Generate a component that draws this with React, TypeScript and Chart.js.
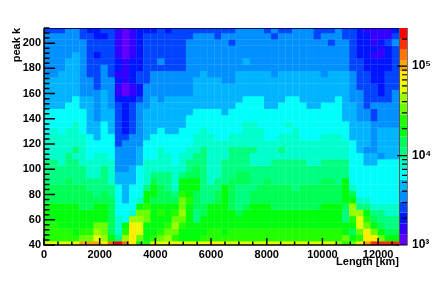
import React, { useEffect, useRef } from "react";
import { Chart, registerables } from "chart.js";

Chart.register(...registerables);

const binWidthKm = 255;
const columnCentres = Array.from({ length: 50 }, (_, i) => binWidthKm / 2 + i * binWidthKm);
const rowEdges = [212,208,203,198,193,188,183,178,173,168,163,158,153,148,143,138,133,128,123,118,113,108,103,98,93,88,83,78,73,68,63,58,53,48,43,40];

const bandColours = ["#6200ff","#3300ff","#0015ff","#0044ff","#0090ff","#00b4ff","#00fffa","#00ffcc","#00ff80","#00ff55","#00ff0d","#22ff00","#6aff00","#99ff00","#e3ff00","#ffee00","#ffa600","#ff7700","#ff2f00","#ff0000"];
const bandEdges = [1000,1322,1748,2311,3055,4039,5340,7060,9334,12341,16317,21573,28523,37712,49860,65923,87161,115240,152365,201449,266350];
const colourMajorTicks = [1000, 10000, 100000];
const colourMinorTicks = [2000,3000,4000,5000,6000,7000,8000,9000,20000,30000,40000,50000,60000,70000,80000,90000,200000];

const row00 = [3,3,3,4,4,3,2,2,3,3,1,0,1,2,2,2,3,2,3,3,3,3,3,3,3, 3,3,4,4,4,4,3,4,3,3,4,4,4,3,3,3,4,3,3,2,1,1,1,1,2];
const row01 = [4,4,4,4,4,3,3,2,2,3,1,0,1,2,3,3,3,3,3,3,3,4,4,4,3, 4,4,4,4,4,4,4,3,4,4,4,4,4,3,4,4,4,3,3,2,2,1,1,1,3];
const row02 = [4,4,4,4,4,4,3,3,3,3,1,0,1,2,3,3,3,3,3,3,4,4,4,4,4, 4,3,4,4,4,4,4,4,4,4,4,4,4,4,4,3,4,4,3,2,2,1,2,3,4];
const row03 = [4,4,4,4,4,4,3,3,3,3,1,0,1,2,3,3,3,3,3,3,4,4,4,4,4, 4,4,4,4,4,4,4,4,4,4,4,4,4,4,4,4,4,4,3,2,2,2,1,2,3];
const row04 = [4,4,4,4,5,4,3,2,3,3,1,0,1,2,3,3,3,3,3,3,4,4,4,4,4, 4,4,4,4,4,4,4,4,4,4,4,4,4,4,4,4,4,4,3,2,2,1,1,2,3];
const row05 = [4,4,4,5,5,4,3,3,3,3,2,1,2,2,3,3,4,3,3,3,4,4,4,4,4, 4,4,4,5,4,4,4,4,4,4,4,4,4,4,4,4,4,4,3,3,2,2,2,2,3];
const row06 = [4,4,4,5,5,4,3,3,4,3,2,1,2,2,3,3,3,3,3,3,4,4,4,4,4, 4,4,4,4,4,4,4,4,4,4,4,4,4,4,4,4,4,4,3,3,2,2,2,2,3];
const row07 = [4,4,5,5,5,4,3,3,4,3,1,1,2,3,3,4,4,4,4,4,4,4,5,4,4, 4,4,5,5,5,5,5,4,5,5,5,5,5,5,4,5,5,5,4,3,3,2,2,3,3];
const row08 = [5,5,5,5,5,4,4,3,4,4,2,1,2,3,3,4,4,4,4,4,4,5,5,5,5, 4,4,5,5,5,5,5,5,5,5,5,5,5,5,5,5,5,5,4,3,3,2,2,3,3];
const row09 = [5,5,5,5,5,4,4,3,4,4,1,0,1,2,4,4,4,4,4,4,4,5,5,5,5, 5,5,5,5,5,5,5,5,5,5,5,5,5,5,5,5,5,5,4,3,3,3,2,3,3];
const row10 = [5,5,5,5,5,4,4,4,5,4,1,0,1,2,4,4,4,4,4,4,4,5,5,5,5, 5,5,5,5,5,5,5,5,5,5,5,5,5,5,5,5,5,5,4,4,3,3,2,3,4];
const row11 = [5,5,5,5,6,5,5,4,5,4,2,2,2,3,4,5,4,5,5,5,5,5,5,5,5, 5,5,5,6,6,6,5,5,5,6,6,5,5,5,5,5,6,5,4,4,3,3,3,3,4];
const row12 = [5,5,5,6,6,5,5,4,5,4,3,2,3,4,4,5,5,5,5,5,5,5,5,5,5, 5,5,6,6,6,6,5,5,6,6,6,6,5,5,6,6,6,5,5,4,3,4,4,4,4];
const row13 = [6,6,6,6,6,6,5,4,5,5,3,2,3,4,5,5,5,5,5,5,5,6,6,6,6, 5,6,6,6,6,6,6,6,6,6,6,6,6,6,6,6,6,5,5,4,4,3,4,4,4];
const row14 = [6,6,6,6,6,6,5,4,5,5,3,2,3,4,5,5,5,5,5,5,6,6,6,6,6, 6,6,6,6,6,6,6,6,6,6,6,6,6,6,6,6,6,5,5,4,4,3,4,4,4];
const row15 = [6,6,6,6,7,6,5,5,6,5,3,2,3,4,5,5,5,5,5,5,6,6,6,6,6, 6,6,6,7,7,6,6,6,6,7,6,6,6,6,6,6,6,6,5,5,5,4,4,4,4];
const row16 = [6,7,6,7,7,6,5,5,6,5,3,2,3,4,5,5,6,5,5,6,6,6,7,6,6, 6,6,6,7,7,7,6,6,6,6,7,6,6,6,6,6,6,6,5,5,5,4,5,5,5];
const row17 = [7,7,7,7,7,7,6,5,6,6,3,3,4,4,5,6,6,6,6,6,6,7,7,7,6, 6,7,7,7,7,7,6,6,7,7,7,6,6,6,7,7,7,6,5,5,5,4,5,5,5];
const row18 = [7,7,7,7,7,7,6,6,6,6,3,4,4,4,6,6,6,6,6,6,6,7,7,7,7, 7,7,7,7,7,7,7,7,7,7,7,7,7,7,7,7,7,7,6,5,5,4,5,5,5];
const row19 = [7,7,7,7,8,7,6,6,6,6,4,4,4,5,6,6,7,6,6,6,7,7,8,7,7, 7,8,8,8,8,7,7,7,8,7,7,7,7,7,7,7,7,7,6,5,4,4,5,5,5];
const row20 = [7,7,7,8,7,7,6,7,7,6,4,4,4,5,6,6,7,7,6,7,7,8,8,7,7, 7,8,8,8,7,7,7,7,7,7,7,7,7,7,7,7,7,7,6,6,5,5,4,5,5];
const row21 = [8,8,7,8,8,7,7,7,7,7,4,4,4,5,7,7,7,7,6,7,8,8,8,7,7, 8,8,8,8,7,7,7,8,8,8,8,8,7,7,8,8,8,8,6,6,5,5,6,6,6];
const row22 = [8,8,8,8,8,8,7,7,8,7,4,4,5,6,7,7,7,7,7,7,8,9,8,7,7, 8,8,8,8,8,8,8,8,8,8,8,8,8,8,8,8,8,8,6,6,6,6,6,6,6];
const row23 = [8,8,8,8,8,8,7,7,8,7,5,5,5,6,7,8,8,8,7,8,9,9,8,7,7, 8,8,9,9,8,8,8,8,8,8,8,8,8,8,8,8,8,8,6,6,6,6,6,6,6];
const row24 = [8,8,8,9,8,8,8,8,8,7,5,5,5,6,7,9,8,8,7,10,10,10,8,7,8, 8,9,9,9,8,8,9,8,8,8,8,8,8,8,9,9,8,10,6,6,6,6,6,6,6];
const row25 = [9,9,9,9,9,9,8,8,8,8,6,5,6,6,8,10,9,8,7,10,10,10,8,8,8, 10,9,8,8,8,9,9,9,9,9,8,9,9,9,9,9,9,10,7,6,6,6,6,6,6];
const row26 = [9,9,9,9,9,9,9,8,9,8,6,5,6,6,10,10,9,9,8,11,10,9,8,8,9, 10,9,8,8,9,9,9,9,9,9,9,9,9,9,9,9,9,10,9,6,6,6,6,6,6];
const row27 = [9,9,9,9,9,9,9,9,9,9,6,5,6,7,10,9,9,9,9,12,11,9,8,8,9, 10,9,8,8,9,9,9,9,9,9,9,9,9,9,9,9,9,10,10,7,7,6,6,6,6];
const row28 = [10,10,10,10,10,9,9,10,10,9,6,6,6,10,11,10,10,10,10,12,10,9,9,10,10, 10,9,8,9,10,10,10,9,9,9,9,9,9,9,10,10,10,9,13,8,8,7,7,7,7];
const row29 = [10,10,10,10,10,10,10,10,10,9,6,6,7,12,12,10,11,10,11,13,10,8,9,10,10, 10,10,9,10,10,10,10,10,10,10,10,10,10,10,10,10,10,8,13,13,10,8,8,7,7];
const row30 = [10,10,10,10,10,10,10,10,10,9,7,6,13,13,12,10,10,10,12,12,10,8,10,10,10, 10,10,10,10,10,10,10,10,10,10,10,10,10,10,10,10,10,8,11,14,11,9,8,8,8];
const row31 = [11,11,10,10,10,10,10,12,12,9,7,10,15,14,10,10,10,11,13,11,10,10,10,10,10, 10,10,10,10,10,10,10,10,10,10,10,10,10,10,10,10,10,10,10,14,12,10,9,8,8];
const row32 = [11,11,11,11,10,11,11,13,12,9,7,11,15,14,10,10,11,12,12,10,10,10,10,11,11, 10,11,11,11,11,11,11,11,11,11,11,11,11,11,11,11,11,10,9,12,15,12,10,9,9];
const row33 = [11,11,11,11,11,12,12,14,13,10,8,13,15,12,10,11,12,13,11,10,10,10,11,11,11, 11,11,11,11,11,11,11,11,11,11,11,11,11,11,11,11,11,12,10,11,15,15,12,10,10];
const row34 = [14,14,14,14,14,16,16,16,15,17,19,17,15,10,11,14,14,14,15,14,14,14,14,15,15, 14,14,14,14,14,14,14,14,14,14,14,14,14,14,14,14,13,11,12,15,16,18,18,18,18];

const rows = [row00,row01,row02,row03,row04,row05,row06,row07,row08,row09,row10,row11,row12,row13,row14,row15,row16,row17,row18,row19,row20,row21,row22,row23,row24,row25,row26,row27,row28,row29,row30,row31,row32,row33,row34];

const xMajorTicks = [0,2000,4000,6000,8000,10000,12000];
const xMinorTicks = [500,1000,1500,2500,3000,3500,4500,5000,5500,6500,7000,7500,8500,9000,9500,10500,11000,11500,12500];
const yMajorTicks = [40,60,80,100,120,140,160,180,200];
const yMinorTicks = [44,48,52,56,64,68,72,76,84,88,92,96,104,108,112,116,124,128,132,136,144,148,152,156,164,168,172,176,184,188,192,196,204,208,212];
const superscripts: Record<number, string> = { 1000: "10\u00b3", 10000: "10\u2074", 100000: "10\u2075" };

const font = { family: "'Liberation Sans', Arial, sans-serif", size: 11, weight: "bold" as const };

const frame = {
  id: "rootFrame",
  afterDatasetsDraw(chart: any) {
    const { ctx, chartArea: a, scales } = chart;
    const { x, y, c } = scales;
    ctx.save();
    const barL = a.right + 1;
    const barR = a.right + 8.5;
    bandColours.forEach((col, k) => {
      const y0 = c.getPixelForValue(bandEdges[k]);
      const y1 = c.getPixelForValue(bandEdges[k + 1]);
      ctx.fillStyle = col;
      ctx.fillRect(barL, y1, barR - barL, y0 - y1);
    });
    ctx.strokeStyle = "#555";
    ctx.lineWidth = 1;
    ctx.beginPath();
    ctx.moveTo(a.right + 0.5, a.top);
    ctx.lineTo(a.right + 0.5, a.bottom);
    ctx.stroke();
    ctx.strokeStyle = "#001060";
    ctx.beginPath();
    ctx.moveTo(a.left, a.top + 0.5);
    ctx.lineTo(a.right, a.top + 0.5);
    ctx.stroke();
    ctx.strokeStyle = "#000";
    ctx.lineWidth = 1.5;
    ctx.beginPath();
    ctx.moveTo(a.left, a.top);
    ctx.lineTo(a.left, a.bottom);
    ctx.lineTo(a.right, a.bottom);
    ctx.stroke();
    const tick = (fn: (t: number) => void, list: number[]) => list.forEach(fn);
    ctx.beginPath();
    tick((t) => { const p = x.getPixelForValue(t); ctx.moveTo(p, a.bottom); ctx.lineTo(p, a.bottom - 7); }, xMajorTicks);
    tick((t) => { const p = x.getPixelForValue(t); ctx.moveTo(p, a.bottom); ctx.lineTo(p, a.bottom - 3.5); }, xMinorTicks);
    tick((t) => { const p = y.getPixelForValue(t); ctx.moveTo(a.left, p); ctx.lineTo(a.left + 11, p); }, yMajorTicks);
    tick((t) => { const p = y.getPixelForValue(t); ctx.moveTo(a.left, p); ctx.lineTo(a.left + 5.5, p); }, yMinorTicks);
    ctx.stroke();
    ctx.lineWidth = 1.2;
    ctx.beginPath();
    tick((t) => { const p = c.getPixelForValue(t); ctx.moveTo(barR, p); ctx.lineTo(barL - 3, p); }, colourMajorTicks);
    tick((t) => { const p = c.getPixelForValue(t); ctx.moveTo(barR, p); ctx.lineTo(barL + 2, p); }, colourMinorTicks);
    ctx.stroke();
    ctx.lineWidth = 1;
    ctx.strokeStyle = "#777";
    ctx.beginPath();
    ctx.moveTo(barR, a.top);
    ctx.lineTo(barR, a.bottom);
    ctx.stroke();
    ctx.restore();
  },
};

export default function App() {
  const ref = useRef<HTMLCanvasElement>(null);
  useEffect(() => {
    document.body.style.margin = "0";
    document.body.style.background = "#fff";
    const datasets = rows.map((bands, r) => ({
      label: `k ${rowEdges[r + 1]}-${rowEdges[r]}`,
      data: bands.map((_, i) => ({ x: columnCentres[i], y: [rowEdges[r + 1], rowEdges[r]] })),
      backgroundColor: bands.map((b) => bandColours[b]),
      borderWidth: 0,
      grouped: false,
      barPercentage: 1,
      categoryPercentage: 1,
      inflateAmount: 0.15,
    }));
    const chart = new Chart(ref.current as HTMLCanvasElement, {
      type: "bar",
      data: { datasets } as any,
      plugins: [frame],
      options: {
        animation: false,
        responsive: false,
        devicePixelRatio: 1,
        layout: { padding: { top: 28, left: 0, right: 0, bottom: 0 } },
        plugins: { legend: { display: false }, tooltip: { enabled: false } },
        scales: {
          x: {
            type: "linear",
            offset: false,
            min: 0,
            max: 12750,
            grid: { display: false, drawTicks: false },
            border: { display: false },
            afterFit: (s: any) => { s.height = 40; },
            afterBuildTicks: (s: any) => { s.ticks = xMajorTicks.map((value) => ({ value })); },
            ticks: { font, color: "#000", padding: 3, maxRotation: 0, autoSkip: false, callback: (v: any) => String(v) },
            title: { display: true, text: "Length [km]", align: "end", color: "#000", font, padding: { top: 0, bottom: 16 } },
          },
          y: {
            type: "linear",
            min: 40,
            max: 212,
            grid: { display: false, drawTicks: false },
            border: { display: false },
            afterFit: (s: any) => { s.width = 44; },
            afterBuildTicks: (s: any) => { s.ticks = yMajorTicks.map((value) => ({ value })); },
            ticks: { font, color: "#000", padding: 3, autoSkip: false, callback: (v: any) => String(v) },
            title: { display: true, text: "peak k", align: "end", color: "#000", font, padding: { top: 10, bottom: 0 } },
          },
          c: {
            type: "logarithmic",
            position: "right",
            min: 1000,
            max: 266350,
            grid: { display: false, drawTicks: false },
            border: { display: false },
            afterFit: (s: any) => { s.width = 44; },
            afterBuildTicks: (s: any) => { s.ticks = colourMajorTicks.map((value) => ({ value })); },
            ticks: { font: { ...font, size: 12 }, color: "#000", padding: 13, autoSkip: false, callback: (v: any) => superscripts[v] ?? "" },
          },
        },
      } as any,
    });
    return () => chart.destroy();
  }, []);
  return <canvas ref={ref} width={443} height={285} style={{ display: "block", position: "absolute", left: 0, top: 0 }} />;
}
